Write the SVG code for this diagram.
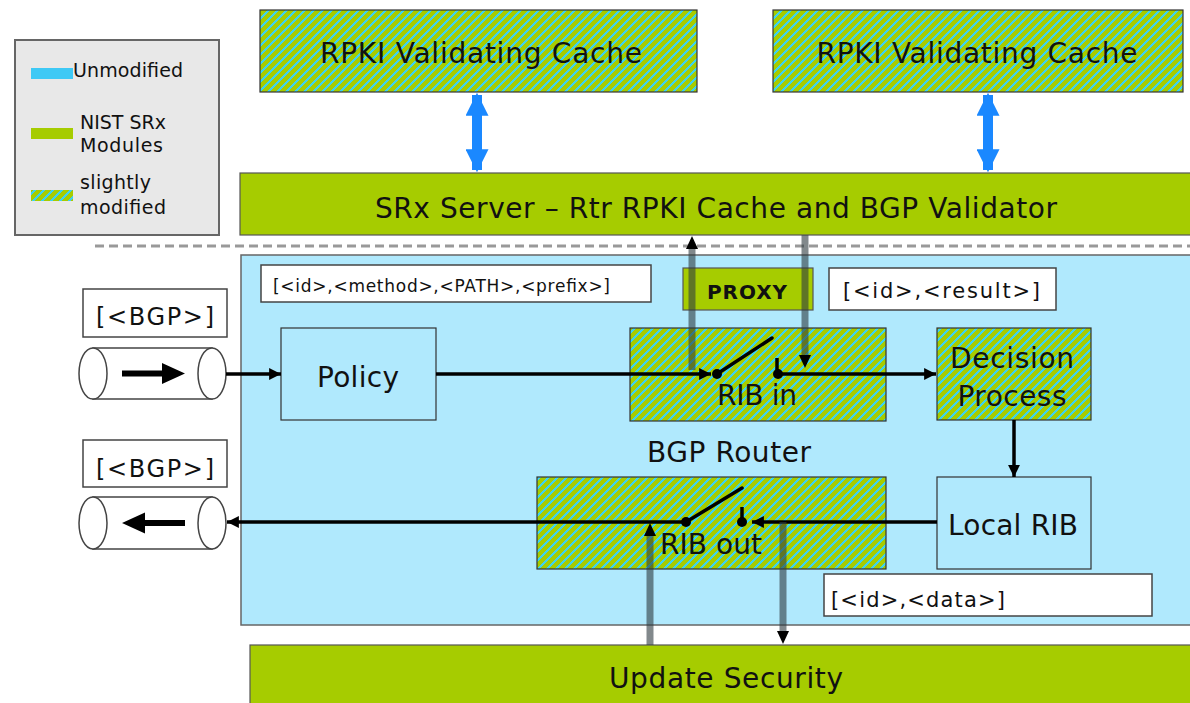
<svg xmlns="http://www.w3.org/2000/svg" width="1190" height="703" viewBox="0 0 1190 703">
<style>
  text { font-family: "DejaVu Sans", "Liberation Sans", sans-serif; fill: #111; }
  .big { font-size: 28px; }
  .mid { font-size: 21px; }
  .small { font-size: 17px; }
  .leg { font-size: 19px; }
  .hatch { fill: url(#hatch); stroke: #333; stroke-width: 1.2; }
  .green { fill: #a6cc00; stroke: #555; stroke-width: 1.2; }
  .lblue { fill: #b0e9fd; stroke: #333; stroke-width: 1.2; }
  .label { fill: #fff; stroke: #444; stroke-width: 1.5; }
  .conn { stroke: #000; stroke-width: 3.5; fill: none; }
  .gray { stroke: #2e3a40; stroke-opacity: 0.6; stroke-width: 7; fill: none; }
  .blue { stroke: #1a88ff; stroke-width: 10; fill: none; }
  .pipe { fill: #fff; stroke: #444; stroke-width: 1.5; }
</style>
<defs>
  <pattern id="hatch" width="9" height="9" patternUnits="userSpaceOnUse">
    <rect width="9" height="9" fill="#a6cc00"/>
    <path d="M-2,11 L11,-2 M-2,2 L2,-2 M7,11 L11,7" stroke="#3fd2ec" stroke-width="2.7" shape-rendering="crispEdges"/>
  </pattern>
  <marker id="ah" viewBox="0 0 10 10" refX="10" refY="5" markerWidth="3.4" markerHeight="3.4" markerUnits="strokeWidth" orient="auto">
    <path d="M0,0 L10,5 L0,10 Z" fill="#000"/>
  </marker>
  <marker id="bh" viewBox="0 0 10 10" refX="9" refY="5" markerWidth="2.3" markerHeight="2.3" markerUnits="strokeWidth" orient="auto-start-reverse">
    <path d="M0,0 L10,5 L0,10 Z" fill="#1a88ff"/>
  </marker>
</defs>

<rect width="1190" height="703" fill="#fff"/>

<g id="legend">
  <rect x="15" y="40" width="204" height="195" fill="#e8e8e8" stroke="#666" stroke-width="2"/>
  <rect x="31" y="68" width="42" height="11" fill="#3ec9f5"/>
  <text class="leg" x="73" y="77" textLength="110" lengthAdjust="spacing">Unmodified</text>
  <rect x="31" y="128" width="42" height="11" fill="#a6cc00"/>
  <text class="leg" x="80" y="129" textLength="86" lengthAdjust="spacing">NIST SRx</text>
  <text class="leg" x="80" y="152" textLength="83" lengthAdjust="spacing">Modules</text>
  <rect x="31" y="190" width="42" height="11" fill="url(#hatch)"/>
  <text class="leg" x="80" y="189" textLength="71" lengthAdjust="spacing">slightly</text>
  <text class="leg" x="80" y="214" textLength="86" lengthAdjust="spacing">modified</text>
</g>

<g id="cache1">
  <rect class="hatch" x="260" y="10" width="437" height="82"/>
  <text class="big" x="481" y="63" text-anchor="middle" textLength="322" lengthAdjust="spacing">RPKI Validating Cache</text>
</g>
<g id="cache2">
  <rect class="hatch" x="773" y="10" width="410" height="82"/>
  <text class="big" x="977" y="63" text-anchor="middle" textLength="321" lengthAdjust="spacing">RPKI Validating Cache</text>
</g>

<g id="srx-server">
  <rect class="green" x="240" y="173" width="952" height="62"/>
  <text class="big" x="716" y="218" text-anchor="middle" textLength="682" lengthAdjust="spacing">SRx Server – Rtr RPKI Cache and BGP Validator</text>
</g>

<line x1="95" y1="246" x2="1190" y2="246" stroke="#999" stroke-width="3" stroke-dasharray="9 5"/>

<g id="bgp-router">
  <rect x="241" y="255" width="951" height="370" fill="#b0e9fd" stroke="#666" stroke-width="1.5"/>
  <text class="big" x="729" y="462" text-anchor="middle" textLength="164" lengthAdjust="spacing">BGP Router</text>
</g>

<g id="update-security">
  <rect class="green" x="250" y="645" width="942" height="70"/>
  <text class="big" x="726" y="688" text-anchor="middle" textLength="234" lengthAdjust="spacing">Update Security</text>
</g>

<g id="label-method">
  <rect class="label" x="261" y="265" width="390" height="37"/>
  <text class="small" x="273" y="292" textLength="337" lengthAdjust="spacing">[&lt;id&gt;,&lt;method&gt;,&lt;PATH&gt;,&lt;prefix&gt;]</text>
</g>

<g id="label-result">
  <rect class="label" x="829" y="268" width="227" height="42"/>
  <text class="mid" x="843" y="298" textLength="197" lengthAdjust="spacing">[&lt;id&gt;,&lt;result&gt;]</text>
</g>

<g id="label-data">
  <rect class="label" x="824" y="574" width="328" height="42"/>
  <text class="mid" x="831" y="607" textLength="174" lengthAdjust="spacing">[&lt;id&gt;,&lt;data&gt;]</text>
</g>

<g id="proxy">
  <rect class="green" x="683" y="268" width="130" height="42" stroke="#222"/>
  <text x="747" y="299" text-anchor="middle" font-size="20" font-weight="bold" textLength="80" lengthAdjust="spacing">PROXY</text>
</g>

<g id="policy">
  <rect class="lblue" x="281" y="328" width="155" height="92"/>
  <text class="big" x="358" y="387" text-anchor="middle" textLength="82" lengthAdjust="spacing">Policy</text>
</g>

<g id="rib-in">
  <rect class="hatch" x="630" y="328" width="256" height="93"/>
  <text class="big" x="757" y="405" text-anchor="middle" textLength="80" lengthAdjust="spacing">RIB in</text>
</g>

<g id="decision-process">
  <rect class="hatch" x="937" y="328" width="154" height="92"/>
  <text class="big" x="1012" y="368" text-anchor="middle" textLength="124" lengthAdjust="spacing">Decision</text>
  <text class="big" x="1012" y="406" text-anchor="middle" textLength="109" lengthAdjust="spacing">Process</text>
</g>

<g id="local-rib">
  <rect class="lblue" x="937" y="477" width="154" height="92"/>
  <text class="big" x="1013" y="535" text-anchor="middle" textLength="130" lengthAdjust="spacing">Local RIB</text>
</g>

<g id="rib-out">
  <rect class="hatch" x="537" y="477" width="349" height="92"/>
  <text class="big" x="711" y="554" text-anchor="middle" textLength="102" lengthAdjust="spacing">RIB out</text>
</g>

<g id="bgp-in">
  <rect class="label" x="83" y="289" width="144" height="48"/>
  <text x="155" y="325" text-anchor="middle" font-size="24" textLength="118" lengthAdjust="spacing">[&lt;BGP&gt;]</text>
  <path class="pipe" d="M93,348 L212,348 L212,399 L93,399 Z"/>
  <ellipse class="pipe" cx="93" cy="373.5" rx="14" ry="25.5"/>
  <ellipse class="pipe" cx="212" cy="373.5" rx="14" ry="25.5"/>
  <path d="M122,370.5 L162,370.5 L162,363 L185,373.5 L162,384 L162,376.5 L122,376.5 Z" fill="#000"/>
</g>

<g id="bgp-out">
  <rect class="label" x="83" y="440" width="144" height="47"/>
  <text x="155" y="477" text-anchor="middle" font-size="24" textLength="118" lengthAdjust="spacing">[&lt;BGP&gt;]</text>
  <path class="pipe" d="M93,497 L212,497 L212,549 L93,549 Z"/>
  <ellipse class="pipe" cx="93" cy="523" rx="14" ry="26"/>
  <ellipse class="pipe" cx="212" cy="523" rx="14" ry="26"/>
  <path d="M185,520 L145,520 L145,512.5 L122,523 L145,533.5 L145,526 L185,526 Z" fill="#000"/>
</g>

<g id="connectors">
  <line class="blue" x1="477" y1="95" x2="477" y2="170" marker-start="url(#bh)" marker-end="url(#bh)"/>
  <line class="blue" x1="988" y1="95" x2="988" y2="170" marker-start="url(#bh)" marker-end="url(#bh)"/>
  <line class="conn" x1="226" y1="374" x2="281" y2="374" marker-end="url(#ah)"/>
  <line class="conn" x1="436" y1="374" x2="711" y2="374" marker-end="url(#ah)"/>
  <circle cx="717" cy="374" r="5" fill="#000"/>
  <line class="conn" x1="717" y1="374" x2="772" y2="338" stroke-linecap="round"/>
  <line class="conn" x1="777" y1="358" x2="777" y2="374"/>
  <circle cx="778" cy="374" r="5" fill="#000"/>
  <line class="conn" x1="778" y1="374" x2="936" y2="374" marker-end="url(#ah)"/>
  <line class="conn" x1="1014" y1="420" x2="1014" y2="477" marker-end="url(#ah)"/>
  <line class="conn" x1="937" y1="522" x2="752" y2="522" marker-end="url(#ah)"/>
  <line class="conn" x1="742" y1="507" x2="742" y2="522"/>
  <circle cx="742" cy="522" r="5" fill="#000"/>
  <line class="conn" x1="686" y1="522" x2="742" y2="488" stroke-linecap="round"/>
  <circle cx="686" cy="522" r="5" fill="#000"/>
  <line class="conn" x1="686" y1="522" x2="227" y2="522" marker-end="url(#ah)"/>
  <line class="gray" x1="692" y1="370" x2="692" y2="248"/>
  <path d="M692,236 L698,249 L686,249 Z" fill="#000"/>
  <line class="gray" x1="805" y1="235" x2="805" y2="356"/>
  <path d="M805,368 L811,355 L799,355 Z" fill="#000"/>
  <line class="gray" x1="650" y1="645" x2="650" y2="536"/>
  <path d="M650,523 L656,536 L644,536 Z" fill="#000"/>
  <line class="gray" x1="783" y1="522" x2="783" y2="631"/>
  <path d="M783,644 L789,631 L777,631 Z" fill="#000"/>
</g>
</svg>
